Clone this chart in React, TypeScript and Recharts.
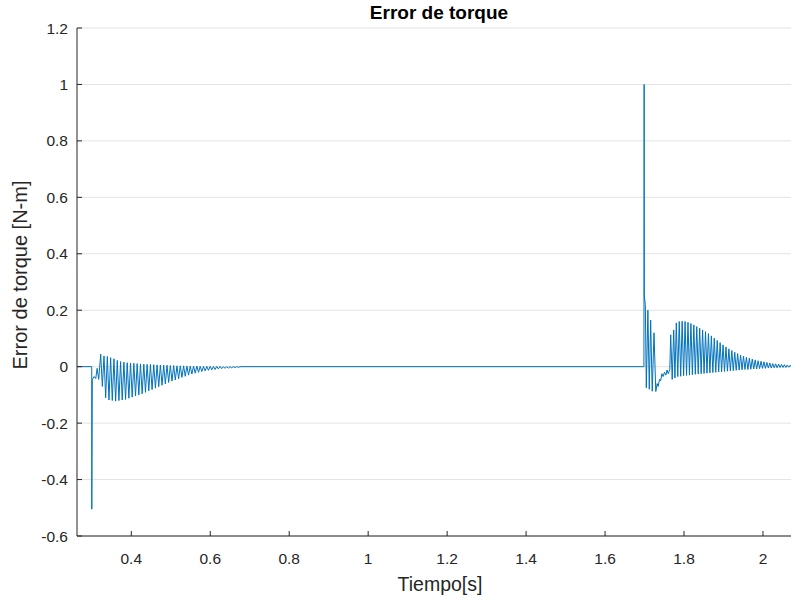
import React from 'react';
import { LineChart, Line, XAxis, YAxis, CartesianGrid } from 'recharts';

// Tick values
const xTicks = [0.4, 0.6, 0.8, 1, 1.2, 1.4, 1.6, 1.8, 2];
const yTicks = [-0.6, -0.4, -0.2, 0, 0.2, 0.4, 0.6, 0.8, 1, 1.2];

// Texts
const titleText = 'Error de torque';
const xLabelText = 'Tiempo[s]';
const yLabelText = 'Error de torque [N-m]';

// [time s, torque error N-m] — quiet start
const preSamples: [number, number][] = [
  [0.2625, 0],
  [0.2998, 0],
];

// first transient (load start at t = 0.3 s)
const onsetSamples: [number, number][] = [
  [0.3000, -0.505], [0.3012, -0.045], [0.3060, -0.035], [0.3100, -0.042],
  [0.3135, -0.006], [0.3175, -0.045], [0.3225, 0.044], [0.3267, -0.07],
  [0.3309, 0.038], [0.3351, -0.11], [0.3393, 0.036], [0.3435, -0.118],
  [0.3477, 0.032], [0.3519, -0.12], [0.3561, 0.028], [0.3603, -0.122],
  [0.3645, 0.022], [0.3687, -0.12], [0.3729, 0.018], [0.3771, -0.118],
  [0.3813, 0.016], [0.3855, -0.116], [0.3897, 0.014], [0.3939, -0.112],
  [0.3981, 0.013], [0.4023, -0.108], [0.4065, 0.012], [0.4107, -0.104],
  [0.4149, 0.011], [0.4191, -0.1], [0.4233, 0.01], [0.4275, -0.096],
  [0.4317, 0.009], [0.4359, -0.091], [0.4401, 0.008], [0.4443, -0.086],
  [0.4485, 0.008], [0.4527, -0.081], [0.4569, 0.007], [0.4611, -0.076],
  [0.4653, 0.006], [0.4695, -0.071], [0.4737, 0.006], [0.4779, -0.066],
  [0.4821, 0.005], [0.4863, -0.061], [0.4905, 0.005], [0.4947, -0.056],
  [0.4989, 0.004], [0.5031, -0.051], [0.5073, 0.004], [0.5115, -0.047],
  [0.5157, 0.003], [0.5199, -0.043], [0.5241, 0.003], [0.5283, -0.038],
  [0.5325, 0.003], [0.5367, -0.034], [0.5409, 0.002], [0.5451, -0.03],
  [0.5493, 0.002], [0.5535, -0.026], [0.5577, 0.002], [0.5619, -0.023],
  [0.5661, 0.002], [0.5703, -0.02], [0.5745, 0.001], [0.5787, -0.017],
  [0.5829, 0.001], [0.5871, -0.015], [0.5913, 0.001], [0.5955, -0.013],
  [0.5997, 0.001], [0.6039, -0.011], [0.6081, 0.001], [0.6123, -0.01],
  [0.6165, 0.001], [0.6207, -0.008], [0.6249, 0.001], [0.6291, -0.007],
  [0.6333, 0], [0.6375, -0.006], [0.6417, 0], [0.6459, -0.005],
  [0.6501, 0], [0.6543, -0.004], [0.6585, 0], [0.6627, -0.003],
  [0.6669, 0], [0.6711, -0.002], [0.678, 0],
];

// steady hold
const holdSamples: [number, number][] = [
  [1.6985, 0],
];

// second transient (step at t = 1.7 s)
const stepSamples: [number, number][] = [
  [1.6990, 1.0], [1.6995, 0.25], [1.7020, 0.22], [1.7045, -0.075],
  [1.7085, 0.2], [1.7120, -0.08], [1.7155, 0.165], [1.7195, -0.087],
  [1.7240, 0.12], [1.7285, -0.088], [1.7320, -0.06], [1.7345, -0.07],
  [1.7380, -0.045], [1.7410, -0.05], [1.7440, -0.025], [1.7470, -0.035],
  [1.7505, -0.02], [1.7540, -0.03], [1.7570, -0.012], [1.7600, -0.025],
  [1.7640, -0.01], [1.7663, 0.113], [1.7701, -0.045], [1.7739, 0.13],
  [1.7770, -0.04], [1.7805, 0.155], [1.7842, -0.035], [1.7879, 0.16],
  [1.7916, -0.034], [1.7953, 0.161], [1.7990, -0.032], [1.8027, 0.16],
  [1.8064, -0.031], [1.8101, 0.157], [1.8138, -0.03], [1.8175, 0.153],
  [1.8212, -0.029], [1.8249, 0.148], [1.8286, -0.027], [1.8323, 0.142],
  [1.8360, -0.026], [1.8397, 0.136], [1.8434, -0.025], [1.8471, 0.13],
  [1.8508, -0.024], [1.8545, 0.124], [1.8582, -0.023], [1.8619, 0.117],
  [1.8656, -0.022], [1.8693, 0.109], [1.8730, -0.021], [1.8767, 0.101],
  [1.8804, -0.02], [1.8841, 0.093], [1.8878, -0.019], [1.8915, 0.085],
  [1.8952, -0.018], [1.8989, 0.077], [1.9026, -0.017], [1.9063, 0.07],
  [1.9100, -0.016], [1.9137, 0.063], [1.9174, -0.015], [1.9211, 0.057],
  [1.9248, -0.014], [1.9285, 0.051], [1.9322, -0.013], [1.9359, 0.046],
  [1.9396, -0.012], [1.9433, 0.041], [1.9470, -0.011], [1.9507, 0.037],
  [1.9544, -0.01], [1.9581, 0.033], [1.9618, -0.01], [1.9655, 0.03],
  [1.9692, -0.009], [1.9729, 0.027], [1.9766, -0.008], [1.9803, 0.024],
  [1.9840, -0.008], [1.9877, 0.021], [1.9914, -0.007], [1.9951, 0.019],
  [1.9988, -0.006], [2.0025, 0.017], [2.0062, -0.006], [2.0099, 0.015],
  [2.0136, -0.005], [2.0173, 0.013], [2.0210, -0.005], [2.0247, 0.011],
  [2.0284, -0.004], [2.0321, 0.01], [2.0358, -0.004], [2.0395, 0.009],
  [2.0432, -0.003], [2.0469, 0.008], [2.0506, -0.003], [2.0543, 0.007],
  [2.0580, -0.003], [2.0617, 0.006], [2.0654, -0.002], [2.0691, 0.005],
  [2.0728, -0.002],
];

const data = [...preSamples, ...onsetSamples, ...holdSamples, ...stepSamples].map(
  ([t, e]) => ({ t, e })
);

const W = 791;
const H = 600;
const AXIS = '#262626';
const FONT = '"Liberation Sans", Arial, Helvetica, sans-serif';
const TICK_FS = 15.5;

const fmt = (v: number) => String(Math.round(v * 10) / 10);

function BottomTick(props: any) {
  const { x, y, payload } = props;
  return (
    <g>
      <line x1={x} x2={x} y1={y} y2={y - 5} stroke={AXIS} strokeWidth={1} />
      <text x={x} y={y + 28} textAnchor="middle" fill={AXIS} fontSize={TICK_FS} fontFamily={FONT}>
        {fmt(payload.value)}
      </text>
    </g>
  );
}

function TopTick(props: any) {
  const { x, y } = props;
  return <line x1={x} x2={x} y1={y} y2={y + 5} stroke={AXIS} strokeWidth={1} />;
}

function LeftTick(props: any) {
  const { x, y, payload } = props;
  return (
    <g>
      <line x1={x} x2={x + 5} y1={y} y2={y} stroke={AXIS} strokeWidth={1} />
      <text x={x - 9} y={y + 5.5} textAnchor="end" fill={AXIS} fontSize={TICK_FS} fontFamily={FONT}>
        {fmt(payload.value)}
      </text>
    </g>
  );
}

export default function App() {
  return (
    <div style={{ position: 'absolute', left: 0, top: 0, width: W, height: H, background: '#ffffff' }}>
      <LineChart width={W} height={H} data={data} margin={{ top: 28, right: 0, bottom: 0, left: 0 }}>
        <CartesianGrid vertical={false} stroke="#e3e3e3" strokeWidth={1} />
        <XAxis
          dataKey="t"
          type="number"
          domain={[0.2625, 2.071]}
          allowDataOverflow
          ticks={xTicks}
          interval={0}
          height={64}
          tickSize={0}
          tickMargin={0}
          tickLine={false}
          axisLine={{ stroke: AXIS, strokeWidth: 1 }}
          tick={<BottomTick />}
        />
        <XAxis
          xAxisId="top"
          orientation="top"
          dataKey="t"
          type="number"
          domain={[0.2625, 2.071]}
          allowDataOverflow
          ticks={xTicks}
          interval={0}
          height={0}
          tickSize={0}
          tickMargin={0}
          tickLine={false}
          axisLine={{ stroke: AXIS, strokeWidth: 1 }}
          tick={<TopTick />}
        />
        <YAxis
          type="number"
          domain={[-0.6, 1.2]}
          allowDataOverflow
          ticks={yTicks}
          interval={0}
          width={77}
          tickSize={0}
          tickMargin={0}
          tickLine={false}
          axisLine={{ stroke: AXIS, strokeWidth: 1 }}
          tick={<LeftTick />}
        />
        <Line
          type="linear"
          dataKey="e"
          stroke="#0072BD"
          strokeWidth={1}
          dot={false}
          activeDot={false}
          isAnimationActive={false}
        />
      </LineChart>
      <svg
        width={W}
        height={H}
        style={{ position: 'absolute', left: 0, top: 0, pointerEvents: 'none' }}
      >
        <text x={439} y={18.5} textAnchor="middle" fontSize={19} fontWeight="bold" fill="#000" fontFamily={FONT}>
          {titleText}
        </text>
        <text x={440} y={591} textAnchor="middle" fontSize={19.5} fill={AXIS} fontFamily={FONT}>
          {xLabelText}
        </text>
        <text
          x={27}
          y={275}
          textAnchor="middle"
          fontSize={20}
          fill={AXIS}
          fontFamily={FONT}
          transform="rotate(-90 27 275)"
        >
          {yLabelText}
        </text>
      </svg>
    </div>
  );
}
